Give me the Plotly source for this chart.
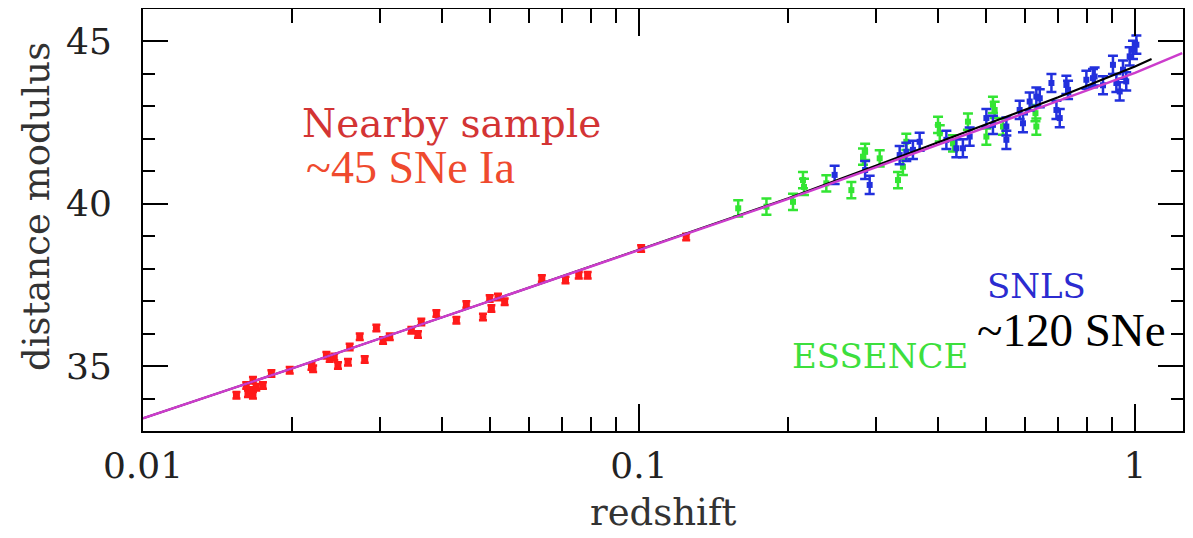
import plotly.graph_objects as go

# ---------------- data ----------------
red_z = [0.01543, 0.01628, 0.01666, 0.01653, 0.01615, 0.01666, 0.01692, 0.01745, 0.01815,
         0.01976, 0.02203, 0.02186, 0.02343, 0.02379, 0.02472, 0.02590, 0.02430, 0.02610,
         0.02735, 0.02799, 0.02955, 0.03048, 0.03144, 0.03476, 0.03584, 0.03640, 0.03904,
         0.04284, 0.04487, 0.04846, 0.05000, 0.05040, 0.05196, 0.05360, 0.0637, 0.0711,
         0.0756, 0.0788, 0.1010, 0.1245]
red_mu = [34.10, 34.15, 34.10, 34.25, 34.40, 34.56, 34.35, 34.40, 34.77,
          34.87, 34.92, 34.99, 35.33, 35.23, 35.02, 35.12, 35.28, 35.59,
          35.90, 35.20, 36.17, 35.79, 35.90, 36.10, 35.97, 36.36, 36.62,
          36.41, 36.90, 36.51, 37.08, 36.77, 37.13, 36.98, 37.70, 37.65,
          37.80, 37.80, 38.62, 38.98]

green_z = [0.1585, 0.1807, 0.2044, 0.2141, 0.2151, 0.2386, 0.2680, 0.2829, 0.2857, 0.3057,
           0.3328, 0.3405, 0.3459, 0.4008, 0.4040, 0.4296, 0.4605, 0.5016, 0.5172, 0.5213,
           0.5418, 0.6300, 0.6326]
green_mu = [39.86, 39.91, 40.06, 40.73, 40.52, 40.63, 40.42, 41.45, 41.60, 41.40,
            40.73, 41.14, 41.91, 42.43, 42.17, 41.86, 42.53, 42.07, 43.05, 42.89,
            42.38, 42.79, 42.38]

blue_z = [0.2480, 0.2918, 0.2857, 0.3354, 0.3459, 0.3567, 0.3680, 0.4166, 0.4364, 0.4498,
          0.4642, 0.5016, 0.5172, 0.5504, 0.5504, 0.5854, 0.5945, 0.6133, 0.6326, 0.6427,
          0.6785, 0.6944, 0.7052, 0.7272, 0.7329, 0.7980, 0.8228, 0.8292, 0.8620, 0.9028,
          0.9172, 0.9315, 0.9458, 0.9602, 0.9756, 0.9908, 1.0065]
blue_mu = [40.89, 40.58, 41.04, 41.50, 41.60, 41.66, 41.91, 41.97, 41.71, 41.71,
           42.07, 42.64, 42.43, 41.97, 42.38, 42.89, 42.48, 43.15, 43.30, 43.25,
           43.72, 42.89, 42.64, 43.66, 43.51, 43.82, 43.87, 43.92, 43.65, 44.28,
           43.72, 43.46, 44.13, 43.77, 44.54, 44.74, 44.90]

red_err = 0.10
green_err = 0.25
blue_err = 0.28

magenta_z = [0.01, 0.02, 0.05, 0.1, 0.2, 0.3, 0.5, 0.7, 1.0, 1.245]
magenta_mu = [33.39, 34.93, 37.00, 38.58, 40.15, 41.12, 42.35, 43.15, 44.03, 44.64]

black_z = [0.01, 0.02, 0.05, 0.1, 0.2, 0.3, 0.5, 0.7, 1.0, 1.08]
black_mu = [33.39, 34.93, 37.00, 38.58, 40.17, 41.17, 42.45, 43.28, 44.23, 44.46]

x_major = [0.01, 0.1, 1]
x_major_text = ["0.01", "0.1", "1"]
x_minor = [0.02, 0.03, 0.04, 0.05, 0.06, 0.07, 0.08, 0.09,
           0.2, 0.3, 0.4, 0.5, 0.6, 0.7, 0.8, 0.9]
y_major = [35, 40, 45]

# ---------------- figure ----------------
# the page body has an 8px default margin, so the figure is offset by 8px
OFF = 8
W, H = 1193 - OFF, 538 - OFF
# plot frame in screen pixels: x 143..1183, y 9..431
FL, FR, FT, FB = 143, 1183, 9, 431
L, R, T, B = FL - OFF, W - (FR - OFF), FT - OFF, H - (FB - OFF)
pw, ph = W - L - R, H - T - B


def px_x(p):
    return (p - FL) / pw


def px_y(p):
    return (FB - p) / ph


fig = go.Figure()


def add_sn(z, mu, err, color, size, width):
    fig.add_trace(go.Scatter(
        x=z, y=mu, mode="markers",
        marker=dict(symbol="square", size=size, color=color, line=dict(width=0)),
        error_y=dict(type="constant", value=err, color=color, thickness=2.5, width=width),
        showlegend=False, hoverinfo="x+y"))


add_sn(red_z, red_mu, red_err, "#ff1a1a", 7, 4)
add_sn(green_z, green_mu, green_err, "#33e533", 6, 5)
add_sn(blue_z, blue_mu, blue_err, "#2230dd", 6, 5)

fig.add_trace(go.Scatter(x=black_z, y=black_mu, mode="lines",
                         line=dict(color="black", width=2), showlegend=False))
fig.add_trace(go.Scatter(x=magenta_z, y=magenta_mu, mode="lines",
                         line=dict(color="#cc3ccc", width=2.5), showlegend=False))

axis_font = dict(family="DejaVu Serif", size=36, color="#222222")

fig.update_layout(
    width=W, height=H,
    margin=dict(l=L, r=R, t=T, b=B, autoexpand=False),
    paper_bgcolor="white", plot_bgcolor="white",
    showlegend=False,
    xaxis=dict(
        type="log", range=[-2, 0.0968],
        tickmode="array", tickvals=x_major, ticktext=x_major_text,
        ticks="inside", ticklen=27, tickwidth=2, tickcolor="black",
        showline=True, linewidth=2, linecolor="black", mirror="allticks",
        showgrid=False, zeroline=False,
        tickfont=axis_font, ticklabelstandoff=2,
        minor=dict(tickmode="array", tickvals=x_minor, ticks="inside", ticklen=14,
                   tickwidth=2, tickcolor="black", showgrid=False),
    ),
    yaxis=dict(
        range=[33.0, 46.0],
        tickmode="array", tickvals=y_major,
        ticks="inside", ticklen=25, tickwidth=2, tickcolor="black",
        showline=True, linewidth=2, linecolor="black", mirror="allticks",
        showgrid=False, zeroline=False,
        tickfont=axis_font, ticklabelstandoff=22,
        minor=dict(dtick=1, ticks="inside", ticklen=12, tickwidth=2,
                   tickcolor="black", showgrid=False),
    ),
)

annos = [
    dict(text="Nearby sample", x=px_x(451), y=px_y(124),
         font=dict(family="DejaVu Serif", size=39, color="#d33434")),
    dict(text="~45 SNe Ia", x=px_x(410), y=px_y(168),
         font=dict(family="Liberation Serif", size=46, color="#ef4a2e")),
    dict(text="SNLS", x=px_x(1036), y=px_y(286),
         font=dict(family="DejaVu Serif", size=34, color="#2b2bd0")),
    dict(text="ESSENCE", x=px_x(880), y=px_y(356),
         font=dict(family="DejaVu Serif", size=34, color="#3ddf3d")),
    dict(text="~120 SNe", x=px_x(1071), y=px_y(330),
         font=dict(family="Liberation Serif", size=47, color="black")),
    dict(text="redshift", x=px_x(663), y=px_y(512),
         font=dict(family="DejaVu Serif", size=37, color="#333333")),
    dict(text="distance modulus", x=px_x(37), y=px_y(207), textangle=-90,
         font=dict(family="DejaVu Serif", size=37, color="#333333")),
]
for a in annos:
    fig.add_annotation(xref="paper", yref="paper", showarrow=False,
                       xanchor="center", yanchor="middle", **a)

fig.write_html("out.html")
